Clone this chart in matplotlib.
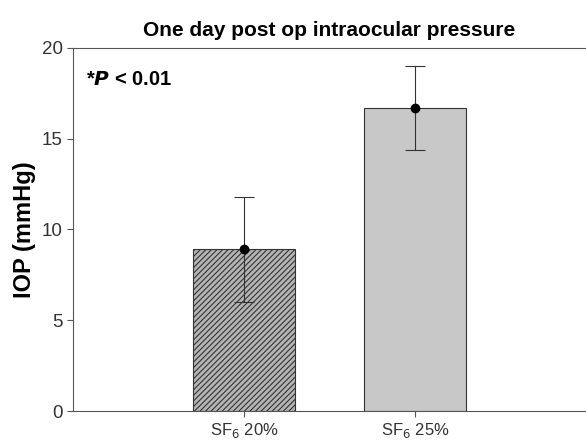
import numpy as np
import matplotlib
matplotlib.use("Agg")
import matplotlib.pyplot as plt

plt.rcParams['font.family'] = ['Liberation Sans', 'DejaVu Sans']
plt.rcParams['hatch.linewidth'] = 0.8

groups = ["SF$_6$ 20%", "SF$_6$ 25%"]
iop_mean = [8.9, 16.7]
iop_err = [2.9, 2.3]

fig = plt.figure(figsize=(5.86, 4.45), dpi=100)
ax = fig.add_axes([73/586, 1 - 411/445, 513/586, 363/445])

pos = np.arange(1, len(groups) + 1)
bars = ax.bar(pos, iop_mean, width=0.6, color=["#b4b4b4", "#c8c8c8"],
              edgecolor="#333333", linewidth=0.8, zorder=2)
bars[0].set_hatch("//////")
ax.errorbar(pos, iop_mean, yerr=iop_err, fmt="o", color="black", ms=6,
            ecolor="#333333", elinewidth=0.8, capsize=7, capthick=0.8, zorder=3)

ax.set_xlim(0, 3)
ax.set_ylim(0, 20)
ax.set_xticks(pos)
ax.set_xticklabels(groups, fontsize=12)
ax.set_yticks([0, 5, 10, 15, 20])
ax.tick_params(axis="y", labelsize=13.5, length=4, color="#555555", labelcolor="#333333")
ax.tick_params(axis="x", length=4, color="#555555", labelcolor="#333333")
for s in ["left", "bottom", "top"]:
    ax.spines[s].set_color("#555555")
ax.spines["right"].set_visible(False)

ax.set_ylabel("IOP (mmHg)", fontsize=17, fontweight="bold", labelpad=4)
ax.set_title("One day post op intraocular pressure", fontsize=15,
             fontweight="bold", pad=9)
ax.text(0.025, 0.94, r"*$\bfit{P}$ < 0.01", transform=ax.transAxes,
        fontsize=14.5, fontweight="bold", va="top")

fig.savefig("out.png", dpi=100)
